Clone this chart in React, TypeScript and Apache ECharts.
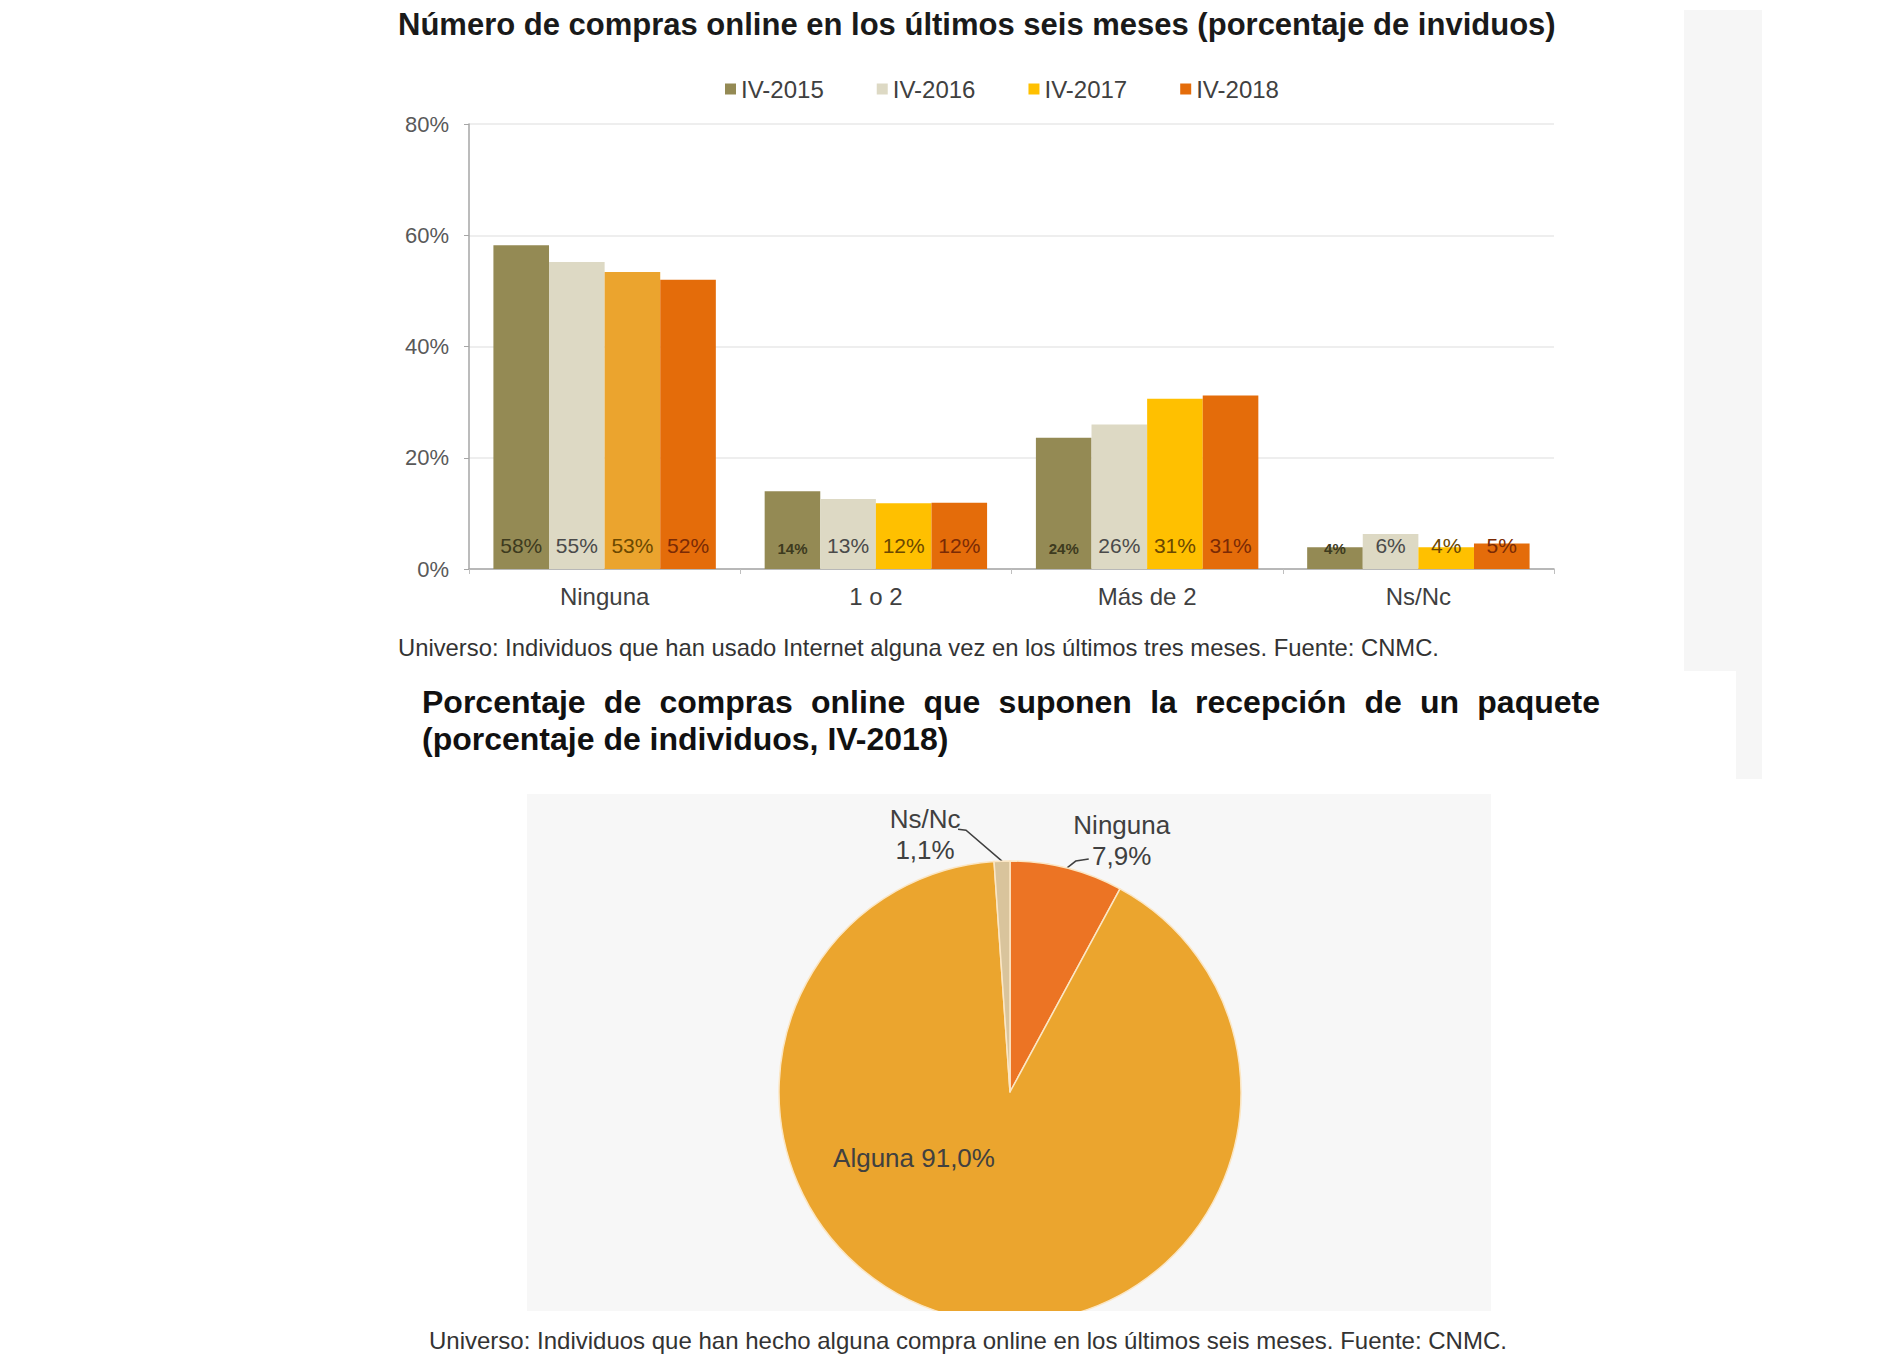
import React, { useEffect, useRef } from "react";
import * as echarts from "echarts";

const FONT = '"Liberation Sans", Arial, sans-serif';

// ---- Bar chart data ----
const categories = ["Ninguna", "1 o 2", "Más de 2", "Ns/Nc"];
const seriesNames = ["IV-2015", "IV-2016", "IV-2017", "IV-2018"];
const values2015 = [58.2, 14.0, 23.6, 3.9];
const values2016 = [55.2, 12.6, 26.0, 6.3];
const values2017 = [53.4, 11.8, 30.6, 3.9];
const values2018 = [52.0, 11.9, 31.2, 4.6];
const yTickMax = 80;
const yTickStep = 20;

// ---- Pie data ----
const pieNames = ["Ninguna", "Alguna", "Ns/Nc"];
const pieValues = [7.9, 91.0, 1.1];

// ---- Texts ----
const title1 = "Número de compras online en los últimos seis meses (porcentaje de inviduos)";
const caption1 = "Universo: Individuos que han usado Internet alguna vez en los últimos tres meses. Fuente: CNMC.";
const title2Line1 = "Porcentaje de compras online que suponen la recepción de un paquete";
const title2Line2 = "(porcentaje de individuos, IV-2018)";
const caption2 = "Universo: Individuos que han hecho alguna compra online en los últimos seis meses. Fuente: CNMC.";

const barColors = ["#948A54", "#DDD9C4", "#FFC000", "#E46C0A"];
const labelColors = ["#3d3a1e", "#4a4a4a", "#6b4800", "#7a2a05"];
const pieColors = ["#EC7424", "#EBA52E", "#D9C49C"];

function fmtComma(v: number) {
  return v.toFixed(1).replace(".", ",");
}

export default function App() {
  const ref = useRef<HTMLDivElement>(null);

  useEffect(() => {
    if (!ref.current) return;
    const chart = echarts.init(ref.current, undefined, { renderer: "svg" });

    // justified title line
    const canvas = document.createElement("canvas");
    const ctx = canvas.getContext("2d")!;
    const t2Font = `bold 32px ${FONT}`;
    ctx.font = t2Font;
    const words = title2Line1.split(" ");
    const widths = words.map((w) => ctx.measureText(w).width);
    const lineLeft = 422;
    const lineRight = 1600;
    const totalW = widths.reduce((a, b) => a + b, 0);
    const gap = (lineRight - lineLeft - totalW) / (words.length - 1);
    let xCursor = lineLeft;
    const wordEls: any[] = words.map((w, i) => {
      const el = {
        type: "text",
        x: xCursor,
        y: 702,
        style: {
          text: w,
          font: t2Font,
          fill: "#111",
          textVerticalAlign: "middle",
          textAlign: "left",
        },
      };
      xCursor += widths[i] + gap;
      return el;
    });

    const allSeries = [values2015, values2016, values2017, values2018];

    const barSeries = allSeries.map((vals, si) => ({
      name: seriesNames[si],
      type: "bar",
      barGap: "0%",
      barCategoryGap: "18%",
      itemStyle: { color: barColors[si] },
      data: vals.map((v, ci) => {
        const item: any = { value: v };
        if (si === 2 && ci === 0) item.itemStyle = { color: "#EBA42E" };
        if (si === 0 && ci > 0) {
          item.label = { fontSize: 15, fontWeight: "bold" };
        }
        return item;
      }),
      label: {
        show: true,
        position: "insideBottom",
        distance: 13,
        formatter: (p: any) => `${Math.round(p.value)}%`,
        fontSize: 21,
        fontFamily: FONT,
        color: labelColors[si],
      },
    }));

    const cx = 1010;
    const cy = 1092;
    const R = 231;
    const pieTotal = pieValues.reduce((a, b) => a + b, 0);
    const edgePoint = (i: number) => {
      let start = 0;
      for (let k = 0; k < i; k++) start += pieValues[k];
      const mid = (start + pieValues[i] / 2) / pieTotal;
      const th = mid * Math.PI * 2;
      return [cx + R * Math.sin(th), cy - R * Math.cos(th)];
    };

    const option: any = {
      animation: false,
      backgroundColor: "#ffffff",
      textStyle: { fontFamily: FONT },
      legend: {
        data: seriesNames,
        left: 720,
        top: 72,
        itemWidth: 11,
        itemHeight: 11,
        itemGap: 53,
        icon: "rect",
        textStyle: { fontSize: 24, color: "#404040", fontFamily: FONT },
        selectedMode: false,
      },
      grid: {
        left: 469,
        top: 124,
        width: 1085,
        height: 445,
        containLabel: false,
      },
      xAxis: {
        type: "category",
        data: categories,
        axisLine: { lineStyle: { color: "#A6A6A6", width: 1.5 } },
        axisTick: { show: true, length: 5, lineStyle: { color: "#BFBFBF" } },
        axisLabel: { fontSize: 24, color: "#404040", margin: 15, fontFamily: FONT },
      },
      yAxis: {
        type: "value",
        min: 0,
        max: yTickMax,
        interval: yTickStep,
        axisLine: { show: true, lineStyle: { color: "#A6A6A6", width: 1.5 } },
        axisTick: { show: true, length: 5, lineStyle: { color: "#A6A6A6" } },
        splitLine: { lineStyle: { color: "#E8E8E8", width: 1.5 } },
        axisLabel: {
          fontSize: 22,
          color: "#595959",
          margin: 20,
          fontFamily: FONT,
          formatter: (v: number) => `${v}%`,
        },
      },
      series: [
        ...barSeries,
        {
          type: "pie",
          center: [cx, cy],
          radius: R,
          startAngle: 90,
          clockwise: true,
          avoidLabelOverlap: false,
          z: 3,
          itemStyle: { borderColor: "#FBE6C4", borderWidth: 1.5 },
          label: {
            show: true,
            position: "outside",
            fontSize: 26,
            lineHeight: 31,
            color: "#404040",
            fontFamily: FONT,
            align: "center",
            formatter: (p: any) =>
              p.dataIndex === 1
                ? `${p.name} ${fmtComma(p.value)}%`
                : `${p.name}\n${fmtComma(p.value)}%`,
          },
          labelLine: {
            show: true,
            length: 5,
            length2: 5,
            lineStyle: { color: "#404040", width: 1.5 },
          },
          labelLayout: (p: any) => {
            const i = p.dataIndex;
            const e = edgePoint(i);
            if (i === 0) {
              return {
                x: e[0] + 55,
                y: e[1] - 28,
                align: "center",
                verticalAlign: "middle",
                labelLinePoints: [e, [e[0] + 9, e[1] - 7], [e[0] + 22, e[1] - 9]],
              };
            }
            if (i === 2) {
              return {
                x: e[0] - 77,
                y: e[1] - 27,
                align: "center",
                verticalAlign: "middle",
                labelLinePoints: [e, [e[0] - 36, e[1] - 31], [e[0] - 44, e[1] - 32]],
              };
            }
            return {
              x: cx - 96,
              y: cy + 66,
              align: "center",
              verticalAlign: "middle",
            };
          },
          data: pieNames.map((n, i) => ({
            name: n,
            value: pieValues[i],
            itemStyle: { color: pieColors[i] },
            labelLine: { show: i !== 1 },
          })),
        },
      ],
      graphic: [
        // right side grey panel
        { type: "rect", z: -10, shape: { x: 1684, y: 10, width: 78, height: 661 }, style: { fill: "#F6F6F6" } },
        { type: "rect", z: -10, shape: { x: 1736, y: 671, width: 26, height: 108 }, style: { fill: "#F6F6F6" } },
        // pie background
        { type: "rect", z: -10, shape: { x: 527, y: 794, width: 964, height: 517 }, style: { fill: "#F7F7F7" } },
        // cover pie overflow below its panel
        { type: "rect", z: 100, shape: { x: 520, y: 1311, width: 980, height: 16 }, style: { fill: "#ffffff" } },
        {
          type: "text",
          x: 398,
          y: 24,
          style: { text: title1, font: `bold 31px ${FONT}`, fill: "#1a1a1a", textVerticalAlign: "middle" },
        },
        {
          type: "text",
          x: 398,
          y: 647,
          style: { text: caption1, font: `23.8px ${FONT}`, fill: "#333", textVerticalAlign: "middle" },
        },
        ...wordEls,
        {
          type: "text",
          x: 422,
          y: 739,
          style: { text: title2Line2, font: t2Font, fill: "#111", textVerticalAlign: "middle" },
        },
        {
          type: "text",
          x: 429,
          y: 1340,
          style: { text: caption2, font: `24px ${FONT}`, fill: "#333", textVerticalAlign: "middle" },
        },
      ],
    };

    chart.setOption(option);
    return () => chart.dispose();
  }, []);

  return (
    <div
      ref={ref}
      style={{ position: "absolute", left: 0, top: 0, width: 1886, height: 1361 }}
    />
  );
}
